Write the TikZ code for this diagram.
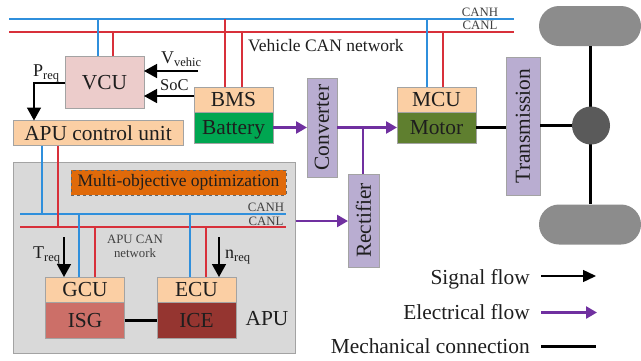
\documentclass[tikz,border=0pt]{standalone}
\usepackage{fontspec}
\setmainfont{Liberation Serif}
\usetikzlibrary{arrows.meta,calc}
\definecolor{txt}{HTML}{1E1E1E}
\definecolor{edge}{HTML}{A3A3A3}
\definecolor{busb}{HTML}{2F8FDC}
\definecolor{busr}{HTML}{D8303A}
\definecolor{elec}{HTML}{7030A0}
\definecolor{cpink}{HTML}{ECCCCB}
\definecolor{cpeach}{HTML}{FBCFA4}
\definecolor{cgreen}{HTML}{00A651}
\definecolor{colive}{HTML}{5F7F2F}
\definecolor{cisg}{HTML}{CC6F68}
\definecolor{cice}{HTML}{953530}
\definecolor{cviol}{HTML}{B9ADD1}
\definecolor{corg}{HTML}{E06A0A}
\definecolor{cbg}{HTML}{D9D9D9}
\definecolor{cwheel}{HTML}{8C8C8C}
\definecolor{chub}{HTML}{5A5A5A}
\newcommand{\fs}[1]{\fontsize{#1}{#1}\selectfont}
\tikzset{
  x=1pt,y=-1pt,
  rblk/.style={draw=edge,line width=1pt,inner sep=0pt,text=txt,font=\fs{21.4},outer sep=0pt,fill=cviol},
  blk/.style={rblk,text height=14pt,text depth=0pt},
  lab/.style={inner sep=0pt,text=txt,font=\fs{21.4}},
  small/.style={inner sep=0pt,text=txt!85!white,font=\fs{12.8},align=center},
  mid/.style={inner sep=0pt,text=txt,font=\fs{17.5}},
  hi/.style={line width=1.3pt,busb},
  lo/.style={line width=1.3pt,busr},
  sig/.style={line width=1.5pt,black,-{Triangle[length=13pt,width=14pt]}},
  sigs/.style={line width=1.4pt,black,-{Triangle[length=13pt,width=12pt]}},
  pow/.style={line width=2.5pt,elec,-{Triangle[length=11pt,width=12pt]}},
  pown/.style={line width=2.5pt,elec},
  mech/.style={line width=3pt,black},
  wheel/.style={fill=cwheel,rounded corners=20pt,inner sep=0pt,minimum width=102pt,minimum height=40pt},
}
\begin{document}
\begin{tikzpicture}
\useasboundingbox (0,0) rectangle (641,360);
% APU background
\node[draw=edge,line width=1pt,fill=cbg,minimum width=282pt,minimum height=191pt,inner sep=0pt] (apu) at (154,257.5) {};
\node[draw=black!60,dashed,line width=.6pt,fill=corg,minimum width=215pt,minimum height=25pt,inner sep=0pt,mid] (moo) at (178.5,182.5) {Multi-objective optimization};
% vehicle bus
\coordinate (hL) at (9,19); \coordinate (hR) at (514,19);
\coordinate (lL) at (9,32); \coordinate (lR) at (514,32);
\draw[hi] (hL) -- (hR);
\draw[lo] (lL) -- (lR);
\node[small] (canh) at (480,12) {CANH};
\node[small] (canl) at (480,25.5) {CANL};
\node[mid,anchor=west] (vcan) at (248,46) {Vehicle CAN network};
% apu bus
\coordinate (ahL) at (20,214); \coordinate (ahR) at (286,214);
\coordinate (alL) at (20,227); \coordinate (alR) at (286,227);
% blocks
\node[blk,fill=cpink,minimum width=79pt,minimum height=52pt] (vcu) at (104.5,82) {VCU};
\node[blk,fill=cpeach,minimum width=170pt,minimum height=25pt] (apcu) at (98,133) {APU control unit};
\node[blk,fill=cpeach,minimum width=79pt,minimum height=25pt] (bms) at (233.5,99.5) {BMS};
\node[blk,fill=cgreen,minimum width=79pt,minimum height=31pt] (bat) at (233.5,127.5) {Battery};
\node[blk,fill=cpeach,minimum width=79pt,minimum height=25pt] (mcu) at (436.5,99.5) {MCU};
\node[blk,fill=colive,minimum width=79pt,minimum height=31pt] (mot) at (436.5,127.5) {Motor};
\node[rblk,minimum width=30pt,minimum height=99pt] (conv) at (322,127.5) {\rotatebox{90}{Converter}};
\node[rblk,minimum width=31pt,minimum height=93pt] (rect) at (363.5,220.5) {\rotatebox{90}{Rectifier}};
\node[rblk,minimum width=34pt,minimum height=138pt] (trans) at (523,126) {\rotatebox{90}{Transmission}};
\node[blk,fill=cpeach,minimum width=79pt,minimum height=25pt] (gcu) at (85,289.5) {GCU};
\node[blk,fill=cisg,minimum width=79pt,minimum height=36pt] (isg) at (85,320) {ISG};
\node[blk,fill=cpeach,minimum width=79pt,minimum height=25pt] (ecu) at (196.5,289.5) {ECU};
\node[blk,fill=cice,minimum width=79pt,minimum height=36pt] (ice) at (196.5,320) {ICE};
\node[lab] (apulab) at (267,319) {APU};
% wheels and hub
\node[wheel] (wt) at (590,26) {};
\node[wheel] (wb) at (590,224.5) {};
\draw[mech] (wt) -- (wb);
\node[circle,fill=chub,minimum size=38pt,inner sep=0pt] (hub) at (591,125.5) {};
% vehicle taps
\coordinate (t1) at (98,19); \coordinate (t2) at (113,32);
\coordinate (t3) at (225,19); \coordinate (t4) at (242,32);
\coordinate (t5) at (427,19); \coordinate (t6) at (443,32);
\draw[hi] (t1) -- (t1 |- vcu.north);
\draw[lo] (t2) -- (t2 |- vcu.north);
\draw[lo] (t3) -- (t3 |- bms.north);
\draw[lo] (t4) -- (t4 |- bms.north);
\draw[hi] (t5) -- (t5 |- mcu.north);
\draw[lo] (t6) -- (t6 |- mcu.north);
% apu taps
\draw[hi] (ahL) -- (ahR);
\draw[lo] (alL) -- (alR);
\node[small] (cah) at (266,207.5) {CANH};
\node[small] (cal) at (266,221) {CANL};
\node[small] (acn) at (135,246) {APU CAN\\[1pt]network};
\coordinate (a1) at (42,214); \coordinate (a2) at (58,227);
\coordinate (a3) at (79,214); \coordinate (a4) at (95,227);
\coordinate (a5) at (190,214); \coordinate (a6) at (206,227);
\draw[hi] (a1 |- apcu.south) -- (a1);
\draw[lo] (a2 |- apcu.south) -- (a2);
\draw[hi] (a3) -- (a3 |- gcu.north);
\draw[lo] (a4) -- (a4 |- gcu.north);
\draw[hi] (a5) -- (a5 |- ecu.north);
\draw[lo] (a6) -- (a6 |- ecu.north);
% signals
\coordinate (vv) at (198,71);
\coordinate (pc) at (34,83);
\coordinate (tq) at (64,237);
\coordinate (nq) at (219,237);
\draw[sig] (vv) -- (vv -| vcu.east);
\draw[sig] (bms.west |- 0,96) -- (vcu.east |- 0,96);
\draw[sig] (vcu.west |- pc) -- (pc) -- (pc |- apcu.north);
\draw[sig] (tq) -- (tq |- gcu.north);
\draw[sig] (nq) -- (nq |- ecu.north);
\node[inner sep=0pt,text=txt,anchor=base west] (pr) at (33,76) {\fs{18}P\raisebox{-3pt}{\fs{12.5}req}};
\node[inner sep=0pt,text=txt,anchor=base west] (vl) at (161,63) {\fs{18}V\raisebox{-3pt}{\fs{12.5}vehic}};
\node[inner sep=0pt,text=txt,anchor=base west] (sc) at (160,90) {\fs{16.5}SoC};
\node[inner sep=0pt,text=txt,anchor=base west] (tl) at (33,258) {\fs{18}T\raisebox{-3pt}{\fs{12.5}req}};
\node[inner sep=0pt,text=txt,anchor=base west] (nl) at (225,258) {\fs{18}n\raisebox{-3pt}{\fs{12.5}req}};
% power
\draw[pow] (bat.east) -- (conv.west |- bat.east);
\draw[pow] (conv.east |- mot.west) -- (mot.west);
\coordinate (jn) at (363,127.5);
\draw[pown] (jn) -- (jn |- rect.north);
\draw[pow] (apu.east |- 0,221) -- (rect.west |- 0,221);
% mechanical
\draw[mech] (isg.east) -- (ice.west);
\draw[mech] (mot.east) -- (trans.west |- mot.east);
\draw[mech] (trans.east |- hub.west) -- (hub.west);
% legend
\node[lab,anchor=base east] (ls) at (530,284) {Signal flow};
\node[lab,anchor=base east] (le) at (530,319) {Electrical flow};
\node[lab,anchor=base east] (lm) at (530,353) {Mechanical connection};
\coordinate (s1) at (541,276); \coordinate (s2) at (596,276);
\coordinate (e1) at (541,312.5); \coordinate (e2) at (597,312.5);
\coordinate (m1) at (541,346.5); \coordinate (m2) at (596,346.5);
\draw[sigs] (s1) -- (s2);
\draw[pow] (e1) -- (e2);
\draw[mech] (m1) -- (m2);
\end{tikzpicture}
\end{document}
